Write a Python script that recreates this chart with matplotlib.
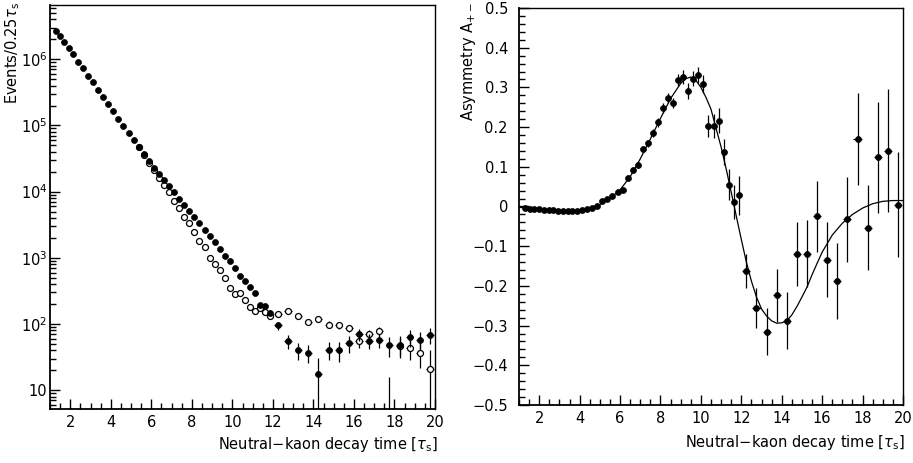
import numpy as np
import matplotlib
matplotlib.use('Agg')
import matplotlib.pyplot as plt
from matplotlib.ticker import FixedLocator, MultipleLocator, FuncFormatter, NullFormatter

plt.rcParams['font.family'] = ['DejaVu Sans']
plt.rcParams['mathtext.fontset'] = 'dejavusans'

# ---------------- Left panel: decay-time distributions ----------------
# filled circles
t_fill = [1.31, 1.51, 1.71, 1.92, 2.13, 2.375, 2.625, 2.875, 3.125, 3.375, 3.625,
          3.875, 4.125, 4.375, 4.625, 4.875, 5.125, 5.375, 5.625, 5.875, 6.125,
          6.375, 6.625, 6.875, 7.125, 7.375, 7.625, 7.875, 8.125, 8.375, 8.625,
          8.875, 9.125, 9.375, 9.625, 9.875, 10.125, 10.375, 10.625, 10.875,
          11.125, 11.375, 11.625, 11.875,
          12.25, 12.75, 13.25, 13.75, 14.25, 14.75, 15.25, 15.75, 16.25, 16.75,
          17.25, 17.75, 18.25, 18.75, 19.25, 19.75]
n_fill = [2.67e6, 2.25e6, 1.85e6, 1.50e6, 1.20e6, 9.2e5, 7.3e5, 5.65e5, 4.5e5,
          3.44e5, 2.70e5, 2.09e5, 1.64e5, 1.27e5, 9.8e4, 7.7e4, 6.0e4, 4.7e4,
          3.7e4, 2.88e4, 2.25e4, 1.82e4, 1.52e4, 1.23e4, 9.75e3, 7.72e3, 6.27e3,
          5.08e3, 4.17e3, 3.35e3, 2.60e3, 2.11e3, 1.73e3, 1.37e3, 1.07e3, 892,
          692, 535, 444, 357, 290, 196, 188, 148,
          95, 55, 40, 37, 17.5, 41, 40, 51, 70, 56, 57, 48, 49, 64, 58, 68]
e_fill = [0] * 36 + [10, 10, 10, 11, 12, 14, 14, 13,
          13, 12.8, 11.6, 11.4, 12.7, 12.6, 13.4, 14.8, 14, 14, 14, 16, 16,
          18.6, 17, 18]
w_fill = [0.09] * 44 + [0.18] * 16

# open circles
t_open = [5.375, 5.625, 5.875, 6.125, 6.375, 6.625, 6.875, 7.125, 7.375, 7.625,
          7.875, 8.125, 8.375, 8.625, 8.875, 9.125, 9.375, 9.625, 9.875,
          10.125, 10.375, 10.625, 10.875, 11.125, 11.375, 11.625, 11.875,
          12.25, 12.75, 13.25, 13.75, 14.25, 14.75, 15.25, 15.75, 16.25, 16.75,
          17.25, 17.75, 18.25, 18.75, 19.25, 19.75]
n_open = [4.7e4, 3.6e4, 2.75e4, 2.1e4, 1.62e4, 1.26e4, 9.75e3, 7.28e3, 5.70e3,
          4.17e3, 3.31e3, 2.47e3, 1.79e3, 1.44e3, 1.0e3, 803, 652, 488, 352,
          280, 296, 229, 178, 158, 172, 150, 131,
          143, 156, 131, 107, 121, 98, 95, 87, 55, 70, 79, 3.0, 46, 44, 37, 20.6]
e_open = [0] * 19 + [8, 8, 8, 8, 9, 10, 10, 11,
          13, 13, 12, 12, 12, 12, 12, 11, 11, 12, 12, 12.6, 15, 15, 15, 20]
w_open = [0.09] * 27 + [0.18] * 16

# ---------------- Right panel: asymmetry ----------------
t_asym = [1.31, 1.52, 1.75, 2.0, 2.23, 2.46, 2.69, 2.93, 3.17, 3.40, 3.64, 3.88,
          4.125, 4.375, 4.625, 4.875, 5.125, 5.375, 5.625, 5.875, 6.125, 6.375,
          6.625, 6.875, 7.125, 7.375, 7.625, 7.875, 8.125, 8.375, 8.625, 8.875,
          9.125, 9.375, 9.625, 9.875, 10.125, 10.375, 10.625, 10.875, 11.125,
          11.375, 11.625, 11.875,
          12.25, 12.75, 13.25, 13.75, 14.25, 14.75, 15.25, 15.75, 16.25, 16.75,
          17.25, 17.75, 18.25, 18.75, 19.25, 19.75]
a_asym = [-0.005, -0.006, -0.006, -0.007, -0.009, -0.010, -0.010, -0.011, -0.011,
          -0.011, -0.011, -0.011, -0.009, -0.006, -0.003, 0.002, 0.013, 0.018,
          0.026, 0.037, 0.042, 0.073, 0.093, 0.104, 0.145, 0.159, 0.185, 0.212,
          0.248, 0.274, 0.260, 0.319, 0.326, 0.290, 0.322, 0.331, 0.309, 0.202,
          0.202, 0.216, 0.138, 0.055, 0.011, 0.028,
          -0.162, -0.255, -0.315, -0.224, -0.288, -0.119, -0.119, -0.025, -0.134,
          -0.187, -0.032, 0.171, -0.054, 0.124, 0.141, 0.005]
e_asym = [0.003] * 12 + [0.004] * 8 + [0.005, 0.006, 0.006, 0.007, 0.008, 0.009,
          0.010, 0.011, 0.012, 0.013, 0.013, 0.015, 0.018, 0.020, 0.019, 0.020,
          0.023, 0.028, 0.030, 0.032, 0.033, 0.039, 0.043, 0.050,
          0.043, 0.050, 0.060, 0.067, 0.072, 0.080, 0.084, 0.090, 0.095, 0.096,
          0.107, 0.116, 0.107, 0.140, 0.155, 0.132]
w_asym = [0.09] * 44 + [0.2] * 16

# fitted curve
t_fit = [1.0, 1.5, 2.0, 2.5, 3.0, 3.5, 4.0, 4.5, 5.0, 5.5, 6.0, 6.5, 7.0, 7.5,
         8.0, 8.5, 9.0, 9.25, 9.5, 9.75, 10.0, 10.25, 10.5, 10.75, 11.0, 11.25,
         11.5, 11.75, 12.0, 12.25, 12.5, 12.75, 13.0, 13.25, 13.5, 13.75, 14.0,
         14.25, 14.5, 14.75, 15.0, 15.25, 15.5, 15.75, 16.0, 16.5, 17.0, 17.5,
         18.0, 18.5, 19.0, 19.5, 20.0]
a_fit = [-0.002, -0.005, -0.007, -0.009, -0.010, -0.011, -0.010, -0.005, 0.005,
         0.020, 0.042, 0.075, 0.120, 0.170, 0.222, 0.272, 0.310, 0.322, 0.326,
         0.318, 0.300, 0.275, 0.245, 0.197, 0.150, 0.095, 0.036, -0.024, -0.083,
         -0.140, -0.188, -0.228, -0.258, -0.276, -0.288, -0.294, -0.293, -0.288,
         -0.273, -0.252, -0.228, -0.203, -0.172, -0.143, -0.115, -0.072, -0.042,
         -0.020, -0.004, 0.007, 0.013, 0.015, 0.015]

W, H = 913, 463
fig = plt.figure(figsize=(W / 100, H / 100), dpi=100)
axL = fig.add_axes([50 / W, 54 / H, 385 / W, 404 / H])
axR = fig.add_axes([519 / W, 58 / H, 384 / W, 397 / H])

ms = 4.3
# ---- left
nO = np.array(n_open); eO = np.array(e_open)
lowO = np.minimum(eO, nO - 1.0)
axL.errorbar(t_open, n_open, yerr=[lowO, eO], xerr=w_open, fmt='o', ms=ms,
             mfc='white', mec='black', mew=0.9, ecolor='black', elinewidth=0.9,
             capsize=0, zorder=2)
nF = np.array(n_fill); eF = np.array(e_fill)
lowF = np.minimum(eF, nF - 1.0)
axL.errorbar(t_fill, n_fill, yerr=[lowF, eF], xerr=w_fill, fmt='o', ms=ms,
             mfc='black', mec='black', mew=0.5, ecolor='black', elinewidth=0.9,
             capsize=0, zorder=3)
axL.set_yscale('log')
axL.set_xlim(1, 20)
axL.set_ylim(5.2, 6.6e6)
axL.yaxis.set_major_locator(FixedLocator([10, 1e2, 1e3, 1e4, 1e5, 1e6]))
minors = [m * 10 ** k for k in range(0, 7) for m in range(2, 10)]
axL.yaxis.set_minor_locator(FixedLocator(minors))
axL.yaxis.set_minor_formatter(NullFormatter())
axL.yaxis.set_major_formatter(FuncFormatter(
    lambda v, p: '10' if abs(v - 10) < 1e-6 else r'$10^{%d}$' % round(np.log10(v))))

# ---- right
axR.errorbar(t_asym, a_asym, yerr=e_asym, xerr=w_asym, fmt='o', ms=ms,
             mfc='black', mec='black', mew=0.5, ecolor='black', elinewidth=0.9,
             capsize=0, zorder=3)
axR.plot(t_fit, a_fit, color='black', lw=0.9, zorder=4)
axR.set_xlim(1, 20)
axR.set_ylim(-0.5, 0.5)
axR.yaxis.set_major_locator(MultipleLocator(0.1))
axR.yaxis.set_minor_locator(MultipleLocator(0.02))
axR.yaxis.set_major_formatter(FuncFormatter(
    lambda v, p: '0' if abs(v) < 1e-9 else ('%.1f' % v).replace('-', '\u2212')))

for ax in (axL, axR):
    ax.xaxis.set_major_locator(MultipleLocator(2))
    ax.xaxis.set_minor_locator(MultipleLocator(0.5))
    ax.tick_params(which='both', direction='in', top=False, right=False,
                   labelsize=10.5, width=1.0)
    ax.tick_params(which='major', length=7)
    ax.tick_params(which='minor', length=4)
    ax.tick_params(axis='x', pad=4)
    for s in ax.spines.values():
        s.set_linewidth(1.0)
    ax.spines['left'].set_linewidth(1.3)
    ax.spines['bottom'].set_linewidth(1.3)

axL.tick_params(axis='y', pad=2)
axR.tick_params(axis='y', pad=8)

xlab = r'Neutral$-$kaon decay time [$\tau_{\rm s}$]'
fig.text(438 / W, 1 - 445 / H, xlab, ha='right', va='center', fontsize=10.5)
fig.text(905 / W, 1 - 442 / H, xlab, ha='right', va='center', fontsize=10.5)
fig.text(13 / W, 1 - 2 / H, r'Events/0.25$\tau_{\rm s}$', rotation=90,
         ha='center', va='top', fontsize=10.5)
fig.text(468 / W, 1 - 2 / H, r'Asymmetry A$_{+-}$', rotation=90,
         ha='center', va='top', fontsize=10.5)

fig.savefig('out.png', dpi=100)
